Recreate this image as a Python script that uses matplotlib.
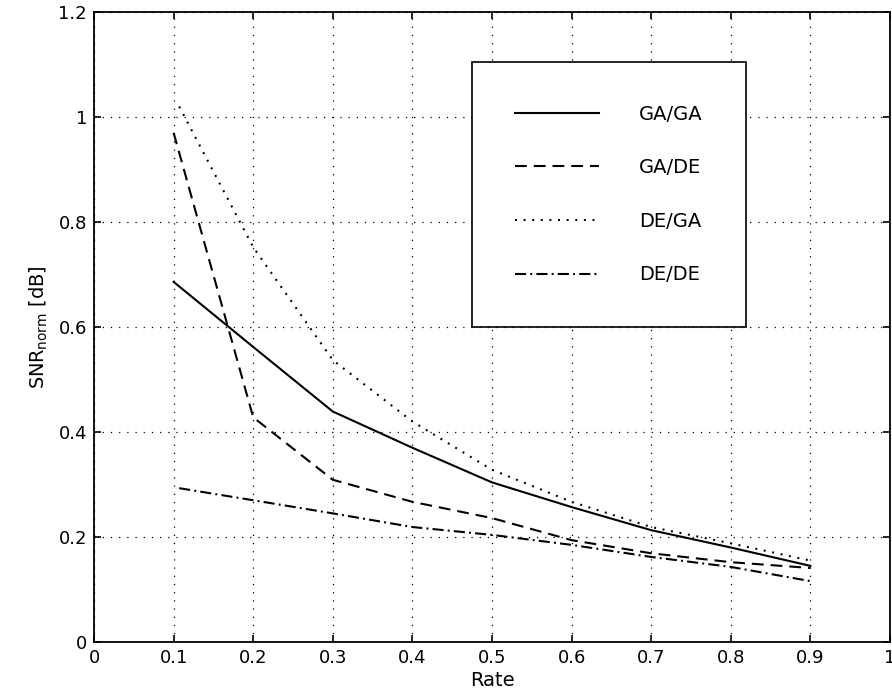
import matplotlib
matplotlib.use("Agg")
import matplotlib.pyplot as plt
from matplotlib.ticker import FuncFormatter

plt.rcParams['font.family'] = ['DejaVu Sans']
plt.rcParams['lines.scale_dashes'] = False
plt.rcParams['mathtext.fontset'] = 'dejavusans'

# ---- data ----
rate_full = [0.1, 0.2, 0.3, 0.4, 0.5, 0.6, 0.7, 0.8, 0.9]
rate_de = [0.107, 0.2, 0.3, 0.4, 0.5, 0.6, 0.7, 0.8, 0.9]
ga_ga = [0.686, 0.562, 0.439, 0.370, 0.304, 0.257, 0.213, 0.180, 0.145]
ga_de = [0.970, 0.428, 0.309, 0.267, 0.236, 0.194, 0.169, 0.152, 0.141]
de_ga = [1.020, 0.752, 0.537, 0.420, 0.328, 0.267, 0.219, 0.188, 0.155]
de_de = [0.293, 0.270, 0.245, 0.219, 0.204, 0.185, 0.162, 0.143, 0.116]
labels = ['GA/GA', 'GA/DE', 'DE/GA', 'DE/DE']
x_ticks = [0, 0.1, 0.2, 0.3, 0.4, 0.5, 0.6, 0.7, 0.8, 0.9, 1.0]
y_ticks = [0, 0.2, 0.4, 0.6, 0.8, 1.0, 1.2]

fig = plt.figure(figsize=(8.92, 6.93), dpi=100)
ax = fig.add_axes([94/892, 1-642/693, (890-94)/892, (642-12)/693])

ax.plot(rate_full, ga_ga, color='black', lw=1.5, linestyle='-', label=labels[0])
ax.plot(rate_full, ga_de, color='black', lw=1.5, linestyle=(0, (8.5, 5)), label=labels[1])
ax.plot(rate_de, de_ga, color='black', lw=1.5, linestyle=(0, (1.4, 4.8)), label=labels[2])
ax.plot(rate_de, de_de, color='black', lw=1.5, linestyle=(0, (8, 3, 1.4, 3)), label=labels[3])

ax.set_xlim(0, 1)
ax.set_ylim(0, 1.2)
ax.set_xticks(x_ticks)
ax.set_yticks(y_ticks)
fmt = FuncFormatter(lambda v, p: '%g' % round(v, 2))
ax.xaxis.set_major_formatter(fmt)
ax.yaxis.set_major_formatter(fmt)
ax.tick_params(direction='in', length=5, width=1.2, top=True, right=True,
               labelsize=13, pad=5, colors='black')
ax.grid(True, color='black', linestyle=(0, (0.9, 5)), linewidth=0.9)
for s in ax.spines.values():
    s.set_linewidth(1.3)
    s.set_color('black')

ax.set_xlabel('Rate', fontsize=14, labelpad=3)
ax.set_ylabel(r'SNR$_{\mathregular{norm}}$ [dB]', fontsize=14, labelpad=6)

leg = ax.legend(loc='upper left', bbox_to_anchor=(0.475, 0.503, 0.352, 0.418),
                borderaxespad=0, fontsize=14, handlelength=4.33, handletextpad=2.06,
                borderpad=2.2, labelspacing=1.78, fancybox=False, framealpha=1,
                edgecolor='black')
leg.get_frame().set_linewidth(1.2)

fig.savefig('out.png', dpi=100)
